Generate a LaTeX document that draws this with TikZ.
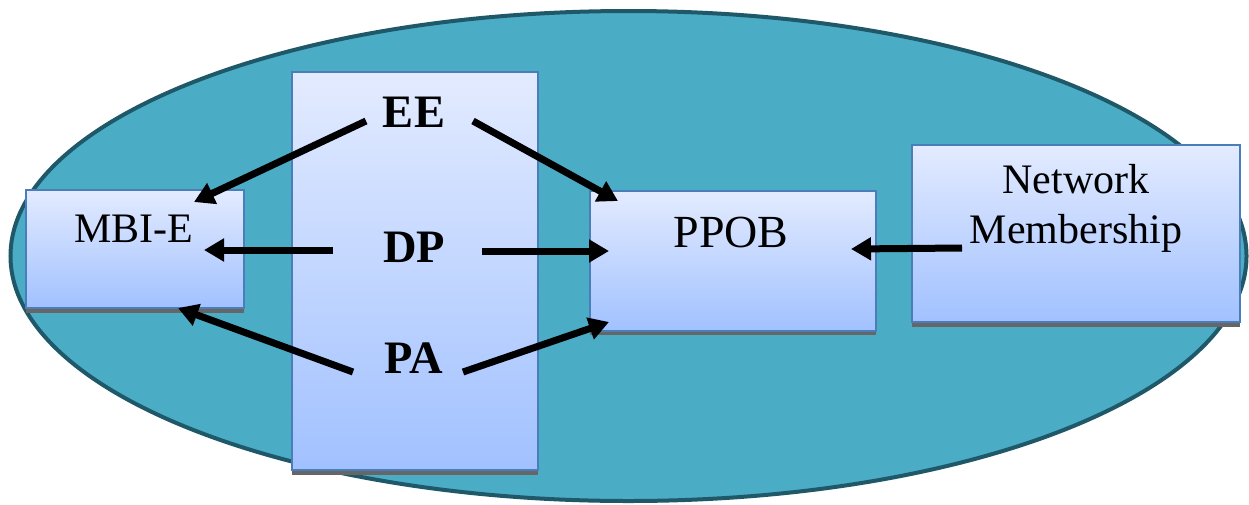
\documentclass[tikz,border=0pt]{standalone}
\usepackage{fontspec}
\setmainfont{Liberation Serif}
\usetikzlibrary{arrows.meta}
\definecolor{ellfill}{RGB}{75,172,198}
\definecolor{elldraw}{RGB}{31,88,104}
\definecolor{boxdraw}{RGB}{74,126,187}
\definecolor{gtop}{RGB}{227,235,255}
\definecolor{gbot}{RGB}{161,193,255}
\begin{document}
\begin{tikzpicture}[x=1pt,y=-1pt,
  box/.style={draw=boxdraw, line width=2pt, top color=gtop, bottom color=gbot,
    anchor=north west, inner sep=0pt, outer sep=0pt},
  shadowbar/.style={fill=black!60},
  bold/.style={anchor=base, inner sep=0pt, font=\fontsize{46.5}{50}\selectfont\bfseries},
  reg/.style={anchor=base, inner sep=0pt, font=\fontsize{42}{50}\selectfont},
  big/.style={anchor=base, inner sep=0pt, font=\fontsize{46}{50}\selectfont},
  arr/.style={line width=7pt, -{Triangle[length=20pt,width=22pt]}}]
\useasboundingbox (0,0) rectangle (1249,504);
% outer ellipse
\draw[fill=ellfill, draw=elldraw, line width=4pt] (628.5,256) ellipse [x radius=618, y radius=245];
% shadows
\fill[shadowbar] (292,470) rectangle (538,475);
\fill[shadowbar] (26,308) rectangle (244,313);
\fill[shadowbar] (590,330) rectangle (876,335);
\fill[shadowbar] (912,322) rectangle (1240,327);
% boxes
\node[box, minimum width=246pt, minimum height=398pt] (col) at (292,72) {};
\node[box, minimum width=218pt, minimum height=118pt] (mbie) at (26,190) {};
\node[box, minimum width=286pt, minimum height=140pt] (ppob) at (590,191) {};
\node[box, minimum width=328pt, minimum height=177pt] (nm) at (912,145) {};
% labels
\node[reg] (mbieT) at (134,242) {MBI-E};
\node[big] (ppobT) at (731,247) {PPOB};
\node[reg] (nmT1) at (1076,193) {Network};
\node[reg] (nmT2) at (1076,243) {Membership};
\node[bold] (EE) at (414,127) {EE};
\node[bold] (DP) at (414,262) {DP};
\node[bold] (PA) at (414,373) {PA};
% arrow end points
\coordinate (eeL) at (366,121);
\coordinate (eeR) at (473,121);
\coordinate (dpL) at (333,250);
\coordinate (dpR) at (482,251);
\coordinate (paL) at (353,372);
\coordinate (paR) at (463,372);
\coordinate (nmL) at (962,248);
\coordinate (mbA) at (194,202);
\coordinate (mbB) at (204,250);
\coordinate (mbC) at (178,308);
\coordinate (ppA) at (618,201);
\coordinate (ppB) at (609,251);
\coordinate (ppC) at (609,322);
\coordinate (ppD) at (851,249);
% arrows
\draw[arr] (eeL) -- (mbA);
\draw[arr] (eeR) -- (ppA);
\draw[arr] (dpL) -- (mbB);
\draw[arr] (dpR) -- (ppB);
\draw[arr] (paL) -- (mbC);
\draw[arr] (paR) -- (ppC);
\draw[arr] (nmL) -- (ppD);
\end{tikzpicture}
\end{document}
